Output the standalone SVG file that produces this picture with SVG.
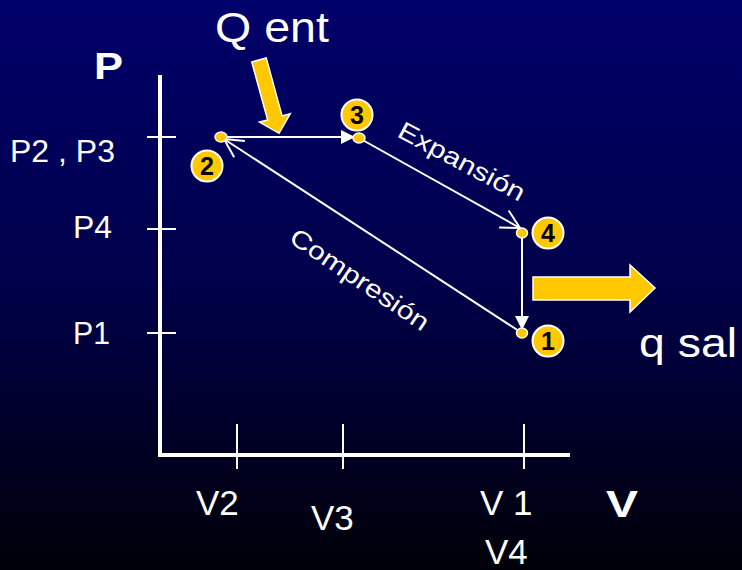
<svg xmlns="http://www.w3.org/2000/svg" width="742" height="570" viewBox="0 0 742 570">
  <defs>
    <linearGradient id="bg" x1="0" y1="0" x2="0" y2="1">
      <stop offset="0" stop-color="#00006A"/>
      <stop offset="0.5" stop-color="#00004A"/>
      <stop offset="1" stop-color="#000008"/>
    </linearGradient>
    <marker id="tri" markerUnits="userSpaceOnUse" viewBox="0 0 14 14" refX="14" refY="7" markerWidth="14" markerHeight="14" orient="auto">
      <path d="M0,0 L14,7 L0,14 z" fill="#fff"/>
    </marker>
    <marker id="open" markerUnits="userSpaceOnUse" viewBox="0 0 24 22" refX="21" refY="11" markerWidth="24" markerHeight="22" orient="auto" overflow="visible">
      <path d="M2.5,1.2 L21,11 L2.5,20.8" fill="none" stroke="#fff" stroke-width="2"/>
    </marker>
  </defs>
  <style>
    .lbl { font-family: "Liberation Sans", Arial, sans-serif; fill: #fff; }
    .axis { stroke: #fff; stroke-width: 4; fill: none; }
    .tick { stroke: #fff; stroke-width: 2; }
    .conn { stroke: #fff; stroke-width: 2; fill: none; }
    .dot { fill: #FFC800; stroke: #fff; stroke-width: 1.5; }
    .badge { fill: #FFC800; stroke: #fff; stroke-width: 2; }
    .num { font-family: "Liberation Sans", Arial, sans-serif; font-weight: bold; font-size: 25px; fill: #000; text-anchor: middle; }
    .big { fill: #FFC800; stroke: #fff; stroke-width: 1.5; }
  </style>
  <rect width="742" height="570" fill="url(#bg)"/>

  <g id="axes">
    <line class="axis" x1="160" y1="75" x2="160" y2="457"/>
    <line class="axis" x1="158" y1="455" x2="570" y2="455"/>
    <line class="tick" x1="147" y1="137" x2="176" y2="137"/>
    <line class="tick" x1="147" y1="229" x2="176" y2="229"/>
    <line class="tick" x1="147" y1="333" x2="176" y2="333"/>
    <line class="tick" x1="237" y1="424" x2="237" y2="469"/>
    <line class="tick" x1="343" y1="424" x2="343" y2="469"/>
    <line class="tick" x1="524" y1="424" x2="524" y2="469"/>
  </g>

  <g id="axis-labels">
    <text class="lbl" x="94" y="79" font-size="36" font-weight="bold" textLength="29" lengthAdjust="spacingAndGlyphs">P</text>
    <text class="lbl" x="606" y="517" font-size="36" font-weight="bold" textLength="32" lengthAdjust="spacingAndGlyphs">V</text>
    <text class="lbl" x="10" y="162" font-size="31" textLength="105" lengthAdjust="spacingAndGlyphs">P2 , P3</text>
    <text class="lbl" x="73" y="238" font-size="31" textLength="39" lengthAdjust="spacingAndGlyphs">P4</text>
    <text class="lbl" x="73" y="344" font-size="31" textLength="37" lengthAdjust="spacingAndGlyphs">P1</text>
    <text class="lbl" x="196" y="515" font-size="35">V2</text>
    <text class="lbl" x="311" y="530" font-size="35">V3</text>
    <text class="lbl" x="480" y="515" font-size="35">V 1</text>
    <text class="lbl" x="485" y="564" font-size="35">V4</text>
  </g>

  <g id="connectors">
    <line class="conn" x1="221" y1="137" x2="355" y2="137" marker-end="url(#tri)"/>
    <line class="conn" x1="359" y1="138" x2="520" y2="228" marker-end="url(#open)"/>
    <line class="conn" x1="522" y1="233" x2="522" y2="330" marker-end="url(#tri)"/>
    <line class="conn" x1="522" y1="333" x2="224" y2="139" marker-end="url(#open)"/>
  </g>

  <g id="edge-labels">
    <text class="lbl" font-size="25" text-anchor="middle" transform="translate(462,161) rotate(28)" x="0" y="9" textLength="140" lengthAdjust="spacingAndGlyphs">Expansión</text>
    <text class="lbl" font-size="25" text-anchor="middle" transform="translate(360,279) rotate(34)" x="0" y="9" textLength="162" lengthAdjust="spacingAndGlyphs">Compresión</text>
  </g>

  <g id="heat-in">
    <path class="big" transform="translate(259,60) rotate(-15.3)" d="M-7.5,0 L7.5,0 L7.5,60 L16,60 L0,76 L-16,60 L-7.5,60 z"/>
    <text class="lbl" x="215" y="42" font-size="42" textLength="114" lengthAdjust="spacingAndGlyphs">Q ent</text>
  </g>

  <g id="heat-out">
    <path class="big" d="M533,277 L630,277 L630,265 L655,288 L630,312 L630,300 L533,300 z"/>
    <text class="lbl" x="639" y="357" font-size="40" textLength="98" lengthAdjust="spacingAndGlyphs">q sal</text>
  </g>

  <g id="node-2">
    <ellipse class="dot" cx="221" cy="137" rx="6" ry="5"/>
    <circle class="badge" cx="207" cy="166" r="15.5"/>
    <text class="num" x="207" y="175">2</text>
  </g>
  <g id="node-3">
    <ellipse class="dot" cx="359" cy="138" rx="6" ry="5"/>
    <circle class="badge" cx="357" cy="115" r="15.5"/>
    <text class="num" x="357" y="124">3</text>
  </g>
  <g id="node-4">
    <ellipse class="dot" cx="522" cy="233" rx="5.5" ry="5"/>
    <circle class="badge" cx="548" cy="233" r="15.5"/>
    <text class="num" x="548" y="242">4</text>
  </g>
  <g id="node-1">
    <ellipse class="dot" cx="522" cy="333" rx="5.5" ry="5"/>
    <circle class="badge" cx="548" cy="341" r="15.5"/>
    <text class="num" x="548" y="350">1</text>
  </g>
</svg>
